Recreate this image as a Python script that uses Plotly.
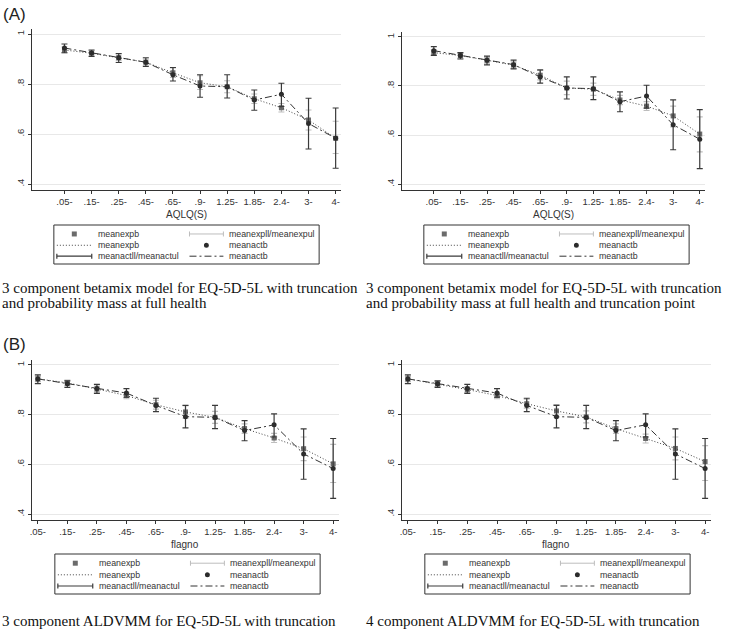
import plotly.graph_objects as go

W, H = 730, 631

categories = [".05-", ".15-", ".25-", ".45-", ".65-", ".9-", "1.25-", "1.85-", "2.4-", "3-", "4-"]
ytick_vals = [0.4, 0.6, 0.8, 1.0]
ytick_text = [".4", ".6", ".8", "1"]

# observed (actual) means and 95% CI
meanactb = [0.944, 0.924, 0.905, 0.887, 0.837, 0.792, 0.789, 0.736, 0.759, 0.642, 0.583]
meanactll = [0.925, 0.910, 0.886, 0.870, 0.812, 0.747, 0.744, 0.695, 0.710, 0.540, 0.463]
meanactul = [0.960, 0.936, 0.922, 0.905, 0.866, 0.837, 0.837, 0.776, 0.803, 0.743, 0.704]

# expected means per model
exp_tl = [0.936, 0.923, 0.905, 0.887, 0.845, 0.805, 0.789, 0.741, 0.705, 0.656, 0.583]
exp_tl_ll = [0.925, 0.913, 0.893, 0.874, 0.826, 0.778, 0.765, 0.722, 0.688, 0.616, 0.522]
exp_tl_ul = [0.948, 0.933, 0.917, 0.900, 0.864, 0.833, 0.813, 0.760, 0.722, 0.696, 0.651]

exp_tr = [0.936, 0.924, 0.905, 0.885, 0.844, 0.792, 0.787, 0.743, 0.718, 0.678, 0.604]
exp_tr_ll = [0.925, 0.913, 0.893, 0.872, 0.825, 0.765, 0.762, 0.724, 0.700, 0.633, 0.531]
exp_tr_ul = [0.948, 0.934, 0.917, 0.898, 0.863, 0.820, 0.812, 0.762, 0.736, 0.718, 0.674]

exp_bl = [0.944, 0.928, 0.903, 0.877, 0.840, 0.811, 0.789, 0.744, 0.706, 0.663, 0.602]
exp_bl_ll = [0.933, 0.917, 0.891, 0.864, 0.822, 0.786, 0.765, 0.725, 0.688, 0.615, 0.527]
exp_bl_ul = [0.955, 0.939, 0.915, 0.890, 0.858, 0.836, 0.813, 0.763, 0.725, 0.710, 0.680]

exp_br = [0.944, 0.924, 0.901, 0.877, 0.844, 0.815, 0.791, 0.744, 0.704, 0.664, 0.611]
exp_br_ll = [0.933, 0.913, 0.889, 0.864, 0.826, 0.790, 0.767, 0.725, 0.686, 0.618, 0.535]
exp_br_ul = [0.955, 0.935, 0.913, 0.890, 0.862, 0.840, 0.815, 0.763, 0.722, 0.710, 0.675]

legend_labels = ["meanexpb", "meanexpll/meanexpul", "meanexpb", "meanactb",
                 "meanactll/meanactul", "meanactb"]

captions = [
    ["3 component betamix model for EQ-5D-5L with truncation",
     "and probability mass at full health"],
    ["3 component betamix model for EQ-5D-5L with truncation",
     "and probability mass at full health and truncation point"],
    ["3 component ALDVMM for EQ-5D-5L with truncation"],
    ["4 component ALDVMM for EQ-5D-5L with truncation"],
]
xtitles = ["AQLQ(S)", "AQLQ(S)", "flagno", "flagno"]


def X(px):
    return px / W


def Y(py):
    return 1 - py / H


C_EXP_M = "#6b6b6b"
C_EXP_CI = "#bdbdbd"
C_EXP_L = "#444444"
C_ACT_M = "#2b2b2b"
C_ACT_CI = "#3a3a3a"
C_ACT_L = "#333333"
DOT = "1px,2px"
DASHDOT = "7px,3px,2px,3px"

# panel geometry (pixels): x0,x1,ytop,ybottom, xrange
panels = [
    dict(x0=30, x1=340, yt=29, yb=190, xr=[-1.2, 10.2], exp=exp_tl, ll=exp_tl_ll, ul=exp_tl_ul),
    dict(x0=401, x1=705, yt=32, yb=190, xr=[-1.2, 10.2], exp=exp_tr, ll=exp_tr_ll, ul=exp_tr_ul),
    dict(x0=30, x1=338, yt=360, yb=520, xr=[-0.2, 10.2], exp=exp_bl, ll=exp_bl_ll, ul=exp_bl_ul),
    dict(x0=401, x1=711, yt=360, yb=520, xr=[-0.2, 10.2], exp=exp_br, ll=exp_br_ll, ul=exp_br_ul),
]

fig = go.Figure()
xpos = list(range(len(categories)))
layout = dict(width=W, height=H, margin=dict(l=0, r=0, t=0, b=0),
              paper_bgcolor="white", plot_bgcolor="white", showlegend=False,
              font=dict(family="Liberation Sans, Arial", size=9, color="#333333"))
shapes = []
annotations = []

for i, p in enumerate(panels):
    k = "" if i == 0 else str(i + 1)
    xa, ya = "x" + k, "y" + k
    ex = p["exp"]
    fig.add_trace(go.Scatter(
        x=xpos, y=ex, mode="markers", xaxis=xa, yaxis=ya,
        marker=dict(symbol="square", size=5, color=C_EXP_M),
        error_y=dict(type="data", symmetric=False,
                     array=[u - m for u, m in zip(p["ul"], ex)],
                     arrayminus=[m - l for m, l in zip(ex, p["ll"])],
                     color=C_EXP_CI, thickness=1.2, width=3)))
    fig.add_trace(go.Scatter(
        x=xpos, y=ex, mode="lines", xaxis=xa, yaxis=ya,
        line=dict(color=C_EXP_L, width=1, dash=DOT)))
    fig.add_trace(go.Scatter(
        x=xpos, y=meanactb, mode="markers", xaxis=xa, yaxis=ya,
        marker=dict(symbol="circle", size=5, color=C_ACT_M),
        error_y=dict(type="data", symmetric=False,
                     array=[u - m for u, m in zip(meanactul, meanactb)],
                     arrayminus=[m - l for m, l in zip(meanactb, meanactll)],
                     color=C_ACT_CI, thickness=1.2, width=3)))
    fig.add_trace(go.Scatter(
        x=xpos, y=meanactb, mode="lines", xaxis=xa, yaxis=ya,
        line=dict(color=C_ACT_L, width=1, dash=DASHDOT)))

    layout["xaxis" + k] = dict(
        domain=[X(p["x0"]), X(p["x1"])], range=p["xr"], anchor=ya,
        tickmode="array", tickvals=xpos, ticktext=categories,
        showgrid=False, zeroline=False, showline=True, linecolor="#333333", linewidth=1,
        ticks="outside", ticklen=3, tickcolor="#333333",
        tickfont=dict(size=9.5, color="#333333"))
    layout["yaxis" + k] = dict(
        domain=[Y(p["yb"]), Y(p["yt"])], range=[0.376, 1.02], anchor=xa,
        tickmode="array", tickvals=ytick_vals, ticktext=ytick_text, tickangle=-90,
        showgrid=True, gridcolor="#e8e8e8", gridwidth=1, zeroline=False,
        showline=True, linecolor="#333333", linewidth=1,
        ticks="outside", ticklen=3, tickcolor="#333333",
        tickfont=dict(size=9.5, color="#333333"))

    annotations.append(dict(xref="paper", yref="paper", x=X((p["x0"] + p["x1"]) / 2),
                            y=Y(p["yb"] + 24), text=xtitles[i], showarrow=False,
                            font=dict(size=10, color="#333333"), xanchor="center", yanchor="middle"))

# legends: box left x, box top y, box bottom y
legends = [(52, 225, 264), (423, 225, 264), (53, 554, 594), (424, 554, 594)]
LW = 266


def line(x0, y0, x1, y1, color, width=1, dash="solid"):
    shapes.append(dict(type="line", xref="paper", yref="paper", x0=X(x0), y0=Y(y0), x1=X(x1), y1=Y(y1),
                       line=dict(color=color, width=width, dash=dash)))


for bx, by0, by1 in legends:
    shapes.append(dict(type="rect", xref="paper", yref="paper", x0=X(bx), x1=X(bx + LW),
                       y0=Y(by1), y1=Y(by0), line=dict(color="#333333", width=1),
                       fillcolor="rgba(0,0,0,0)"))
    hgt = by1 - by0
    rows = [by0 + hgt * 0.23, by0 + hgt * 0.52, by0 + hgt * 0.80]
    items = [(0, 0), (0, 1), (1, 0), (1, 1), (2, 0), (2, 1)]
    for idx, (r, c) in enumerate(items):
        yy = rows[r]
        if c == 0:
            s, e, t = bx + 3, bx + 38, bx + 43
        else:
            s, e, t = bx + 136, bx + 170, bx + 175
        mid = (s + e) / 2
        if idx == 0:
            shapes.append(dict(type="rect", xref="paper", yref="paper", x0=X(mid - 2.5), x1=X(mid + 2.5),
                               y0=Y(yy + 2.5), y1=Y(yy - 2.5), line=dict(width=0), fillcolor=C_EXP_M))
        elif idx == 1:
            line(s, yy, e, yy, C_EXP_CI, 1)
            line(s, yy - 2.5, s, yy + 2.5, C_EXP_CI, 1)
            line(e, yy - 2.5, e, yy + 2.5, C_EXP_CI, 1)
        elif idx == 2:
            line(s, yy, e, yy, C_EXP_L, 1, DOT)
        elif idx == 3:
            shapes.append(dict(type="circle", xref="paper", yref="paper", x0=X(mid - 2.5), x1=X(mid + 2.5),
                               y0=Y(yy + 2.5), y1=Y(yy - 2.5), line=dict(width=0), fillcolor=C_ACT_M))
        elif idx == 4:
            line(s, yy, e, yy, C_ACT_CI, 1.2)
            line(s, yy - 2.5, s, yy + 2.5, C_ACT_CI, 1.2)
            line(e, yy - 2.5, e, yy + 2.5, C_ACT_CI, 1.2)
        else:
            line(s, yy, e, yy, C_ACT_L, 1, DASHDOT)
        annotations.append(dict(xref="paper", yref="paper", x=X(t), y=Y(yy), text=legend_labels[idx],
                                showarrow=False, xanchor="left", yanchor="middle", borderpad=0,
                                font=dict(size=8.8, color="#333333")))

# captions
cap_pos = [(-1, [288, 303]), (364, [288, 303]), (-1, [621]), (364, [621])]
for (cx, ys), lines_ in zip(cap_pos, captions):
    for yy, txt in zip(ys, lines_):
        annotations.append(dict(xref="paper", yref="paper", x=X(cx), y=Y(yy), text=txt, showarrow=False,
                                xanchor="left", yanchor="middle", borderpad=0,
                                font=dict(family="Liberation Serif, Times New Roman", size=15, color="#111111")))

annotations.append(dict(xref="paper", yref="paper", x=0, y=Y(15), text="(A)", showarrow=False,
                        xanchor="left", yanchor="middle", borderpad=0, font=dict(size=17, color="#222222")))
annotations.append(dict(xref="paper", yref="paper", x=0, y=Y(344), text="(B)", showarrow=False,
                        xanchor="left", yanchor="middle", borderpad=0, font=dict(size=17, color="#222222")))

layout["shapes"] = shapes
layout["annotations"] = annotations
fig.update_layout(**layout)
fig.write_html("out.html", config={"displayModeBar": False},
               post_script="document.body.style.margin='0';document.body.style.padding='0';")
